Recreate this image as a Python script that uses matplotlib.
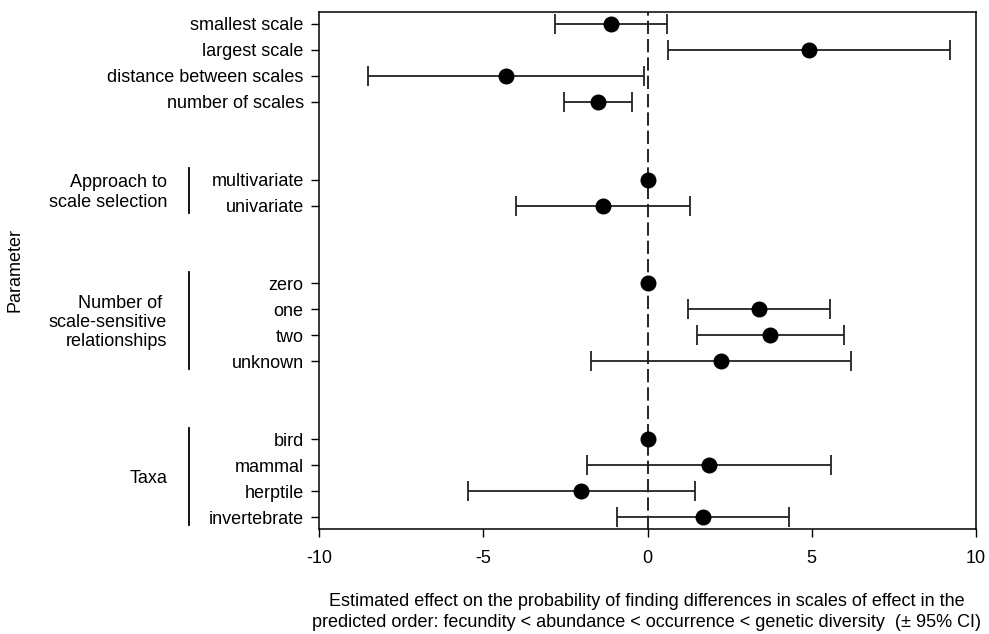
import numpy as np
import matplotlib.pyplot as plt
from matplotlib.transforms import blended_transform_factory

plt.rcParams['font.family'] = ['Liberation Sans', 'DejaVu Sans']
plt.rcParams['axes.unicode_minus'] = False

# row labels, top to bottom, with their row slot (gaps between groups)
labels = ["smallest scale", "largest scale", "distance between scales", "number of scales",
          "multivariate", "univariate",
          "zero", "one", "two", "unknown",
          "bird", "mammal", "herptile", "invertebrate"]
rows = [1, 2, 3, 4, 7, 8, 11, 12, 13, 14, 17, 18, 19, 20]

est = [-1.12, 4.92, -4.31, -1.51,
       0.0, -1.35,
       0.0, 3.38, 3.74, 2.23,
       0.0, 1.88, -2.01, 1.68]
lower = [-2.82, 0.62, -8.50, -2.55,
         np.nan, -3.99,
         np.nan, 1.22, 1.51, -1.72,
         np.nan, -1.83, -5.47, -0.94]
upper = [0.58, 9.22, -0.10, -0.46,
         np.nan, 1.28,
         np.nan, 5.56, 5.97, 6.21,
         np.nan, 5.59, 1.45, 4.31]

groups = ["Approach to\nscale selection", "Number of \nscale-sensitive\nrelationships", "Taxa"]
group_rows = [(7, 8), (11, 14), (17, 20)]

W, H = 989, 634
fig = plt.figure(figsize=(W / 100, H / 100), dpi=100)
ax = fig.add_axes([319 / W, 1 - 529 / H, 657 / W, 517 / H])

est = np.array(est)
lo = np.array(lower)
hi = np.array(upper)
has_ci = ~np.isnan(lo)
r = np.array(rows)

ax.axvline(0, color="black", lw=1.2, dashes=(8, 3), zorder=1)
ax.errorbar(est[has_ci], r[has_ci],
            xerr=[est[has_ci] - lo[has_ci], hi[has_ci] - est[has_ci]],
            fmt="none", ecolor="#222222", elinewidth=1.3, capsize=7, capthick=1.3, zorder=2)
ax.plot(est, r, "o", color="black", ms=10.5, zorder=3)

ax.set_xlim(-10, 10)
ax.set_ylim(20.45, 0.55)
ax.set_xticks([-10, -5, 0, 5, 10])
ax.set_yticks(rows)
ax.set_yticklabels(labels)
ax.tick_params(direction="out", length=6, width=1, labelsize=13, pad=5)
ax.tick_params(axis="x", pad=9)
for s in ax.spines.values():
    s.set_linewidth(1.1)

# group brackets and labels on the left
tr = blended_transform_factory(fig.transFigure, ax.transData)
for name, (r0, r1) in zip(groups, group_rows):
    ax.plot([189 / W, 189 / W], [r0 - 0.45, r1 + 0.3], color="black", lw=1.3,
            transform=tr, clip_on=False)
    ax.text(167 / W, (r0 + r1) / 2, name, transform=tr, ha="right", va="center",
            fontsize=13, linespacing=1.17)

fig.text(15 / W, 1 - 270 / H, "Parameter", rotation=90, ha="center", va="center", fontsize=13)
fig.text(647 / W, 1 - 612 / H,
         "Estimated effect on the probability of finding differences in scales of effect in the\n"
         "predicted order: fecundity < abundance < occurrence < genetic diversity  (\u00b1 95% CI)",
         ha="center", va="center", fontsize=13, linespacing=1.35)

fig.savefig("out.png", dpi=100)
